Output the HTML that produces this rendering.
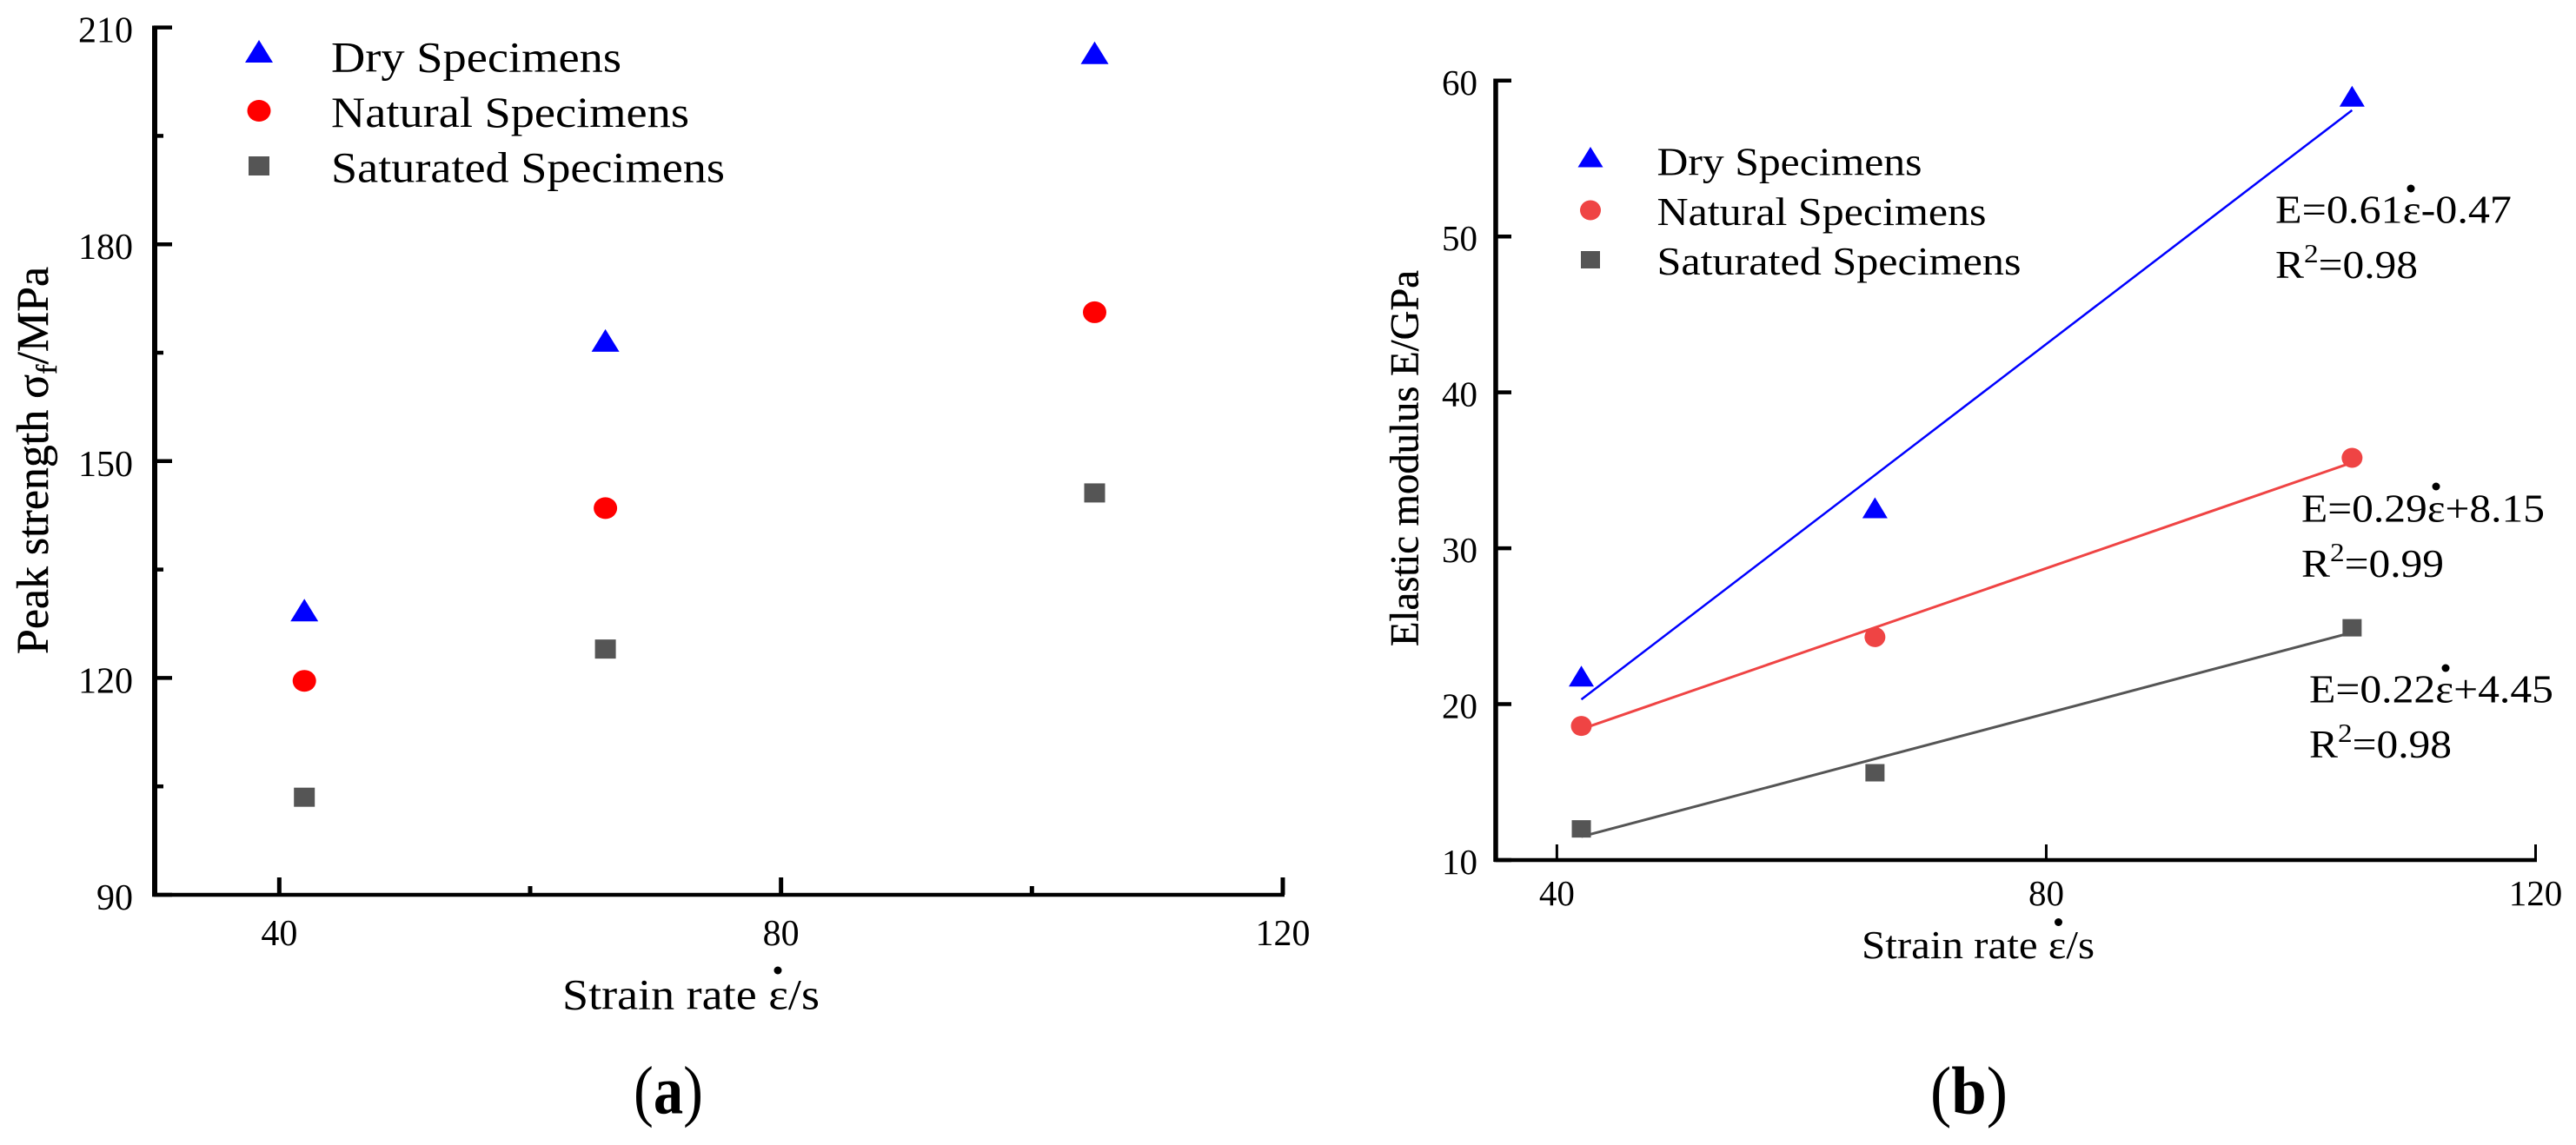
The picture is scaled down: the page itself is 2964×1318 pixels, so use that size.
<!DOCTYPE html>
<html lang="en">
<head>
<meta charset="utf-8">
<title>Peak strength and elastic modulus vs strain rate</title>
<style>
html,body{margin:0;padding:0;background:#fff;}
svg{display:block;}
text{font-family:"Liberation Serif","Times New Roman",serif;fill:#000;}
</style>
</head>
<body>
<svg id="figure" xmlns="http://www.w3.org/2000/svg" width="2964" height="1318" viewBox="0 0 2964 1318">
  <rect x="0" y="0" width="2964" height="1318" fill="#fff"/>

  <g id="panel-a">
    <text transform="translate(55,753) rotate(-90)" font-size="52" stroke="#000" stroke-width="0.4" textLength="446" lengthAdjust="spacingAndGlyphs">Peak strength σ<tspan font-size="34" dy="10">f</tspan><tspan dy="-10">/MPa</tspan></text>
    <text x="647" y="1161.5" font-size="50" textLength="296" lengthAdjust="spacingAndGlyphs">Strain rate ε/s</text>
    <circle cx="895" cy="1117" r="4.5" fill="#000"/>
    <text x="381" y="82.5" font-size="50" textLength="334" lengthAdjust="spacingAndGlyphs">Dry Specimens</text>
    <text x="381" y="146" font-size="50" textLength="412" lengthAdjust="spacingAndGlyphs">Natural Specimens</text>
    <text x="381" y="209.5" font-size="50" textLength="453" lengthAdjust="spacingAndGlyphs">Saturated Specimens</text>
    <polygon points="298,46 314,72 282,72" fill="#0000ff"/>
    <ellipse cx="298" cy="127.5" rx="13.5" ry="12.5" fill="#ff0000"/>
    <rect x="286" y="180" width="24" height="22" fill="#555555"/>
    <text x="729" y="1281.5" font-size="78" textLength="80" lengthAdjust="spacingAndGlyphs">(<tspan font-weight="bold">a</tspan>)</text>
  </g>

  <g id="panel-b">
    <text transform="translate(1631.5,744) rotate(-90)" font-size="47" stroke="#000" stroke-width="0.4" textLength="433" lengthAdjust="spacingAndGlyphs">Elastic modulus E/GPa</text>
    <text x="2142" y="1103" font-size="46" textLength="268" lengthAdjust="spacingAndGlyphs">Strain rate ε/s</text>
    <circle cx="2368.5" cy="1061.5" r="4.5" fill="#000"/>
    <text x="1906.5" y="201.5" font-size="46" textLength="305" lengthAdjust="spacingAndGlyphs">Dry Specimens</text>
    <text x="1906.5" y="259" font-size="46" textLength="379" lengthAdjust="spacingAndGlyphs">Natural Specimens</text>
    <text x="1906.5" y="316" font-size="46" textLength="419" lengthAdjust="spacingAndGlyphs">Saturated Specimens</text>
    <polygon points="1830,169 1844.5,192.5 1815.5,192.5" fill="#0000ff"/>
    <ellipse cx="1830" cy="242" rx="12" ry="11.5" fill="#ef4444"/>
    <rect x="1819" y="289" width="22" height="20" fill="#555555"/>

    <text x="2618" y="256.5" font-size="46" textLength="272" lengthAdjust="spacingAndGlyphs">E=0.61ε-0.47</text>
    <circle cx="2774" cy="217" r="4.5" fill="#000"/>
    <text x="2618" y="320" font-size="46" textLength="164" lengthAdjust="spacingAndGlyphs">R<tspan font-size="31" dy="-18">2</tspan><tspan dy="18">=0.98</tspan></text>

    <text x="2648" y="600.5" font-size="46" textLength="280" lengthAdjust="spacingAndGlyphs">E=0.29ε+8.15</text>
    <circle cx="2803" cy="560" r="4.5" fill="#000"/>
    <text x="2648" y="664" font-size="46" textLength="164" lengthAdjust="spacingAndGlyphs">R<tspan font-size="31" dy="-18">2</tspan><tspan dy="18">=0.99</tspan></text>

    <text x="2657" y="808.5" font-size="46" textLength="281" lengthAdjust="spacingAndGlyphs">E=0.22ε+4.45</text>
    <circle cx="2814" cy="769" r="4.5" fill="#000"/>
    <text x="2657" y="872" font-size="46" textLength="164" lengthAdjust="spacingAndGlyphs">R<tspan font-size="31" dy="-18">2</tspan><tspan dy="18">=0.98</tspan></text>

    <text x="2221" y="1282" font-size="78" textLength="89" lengthAdjust="spacingAndGlyphs">(<tspan font-weight="bold">b</tspan>)</text>
  </g>
</svg>

<script>
// Shared data
const strainRates = [42, 66, 105];

// Panel (a): peak strength, MPa
const peakDry = [129.4, 166.7, 206.5];
const peakNatural = [119.6, 143.5, 170.6];
const peakSaturated = [103.5, 124, 145.6];
const peakYTicks = [90, 120, 150, 180, 210];
const peakYMinorTicks = [105, 135, 165, 195];
const peakXTicks = [40, 80, 120];
const peakXMinorTicks = [60, 100];

// Panel (b): elastic modulus, GPa
const modulusDry = [21.8, 32.6, 59];
const modulusNatural = [18.6, 24.3, 35.8];
const modulusSaturated = [12, 15.6, 24.9];
const modulusYTicks = [10, 20, 30, 40, 50, 60];
const modulusXTicks = [40, 80, 120];

// Fit line end values at the first and last strain rate
const fitDry = [20.3, 58.1];
const fitNatural = [18.4, 35.5];
const fitSaturated = [11.5, 24.6];

const SVG_NS = 'http://www.w3.org/2000/svg';
const panelA = document.getElementById('panel-a');
const panelB = document.getElementById('panel-b');

function scale(d0, d1, r0, r1) {
  return function (v) { return r0 + (v - d0) * (r1 - r0) / (d1 - d0); };
}
function make(parent, tag, attrs) {
  const el = document.createElementNS(SVG_NS, tag);
  for (const k in attrs) el.setAttribute(k, attrs[k]);
  parent.appendChild(el);
  return el;
}
function triangleMark(parent, cx, cy, w, h, fill) {
  return make(parent, 'polygon', {
    points: cx + ',' + (cy - h / 2) + ' ' + (cx + w / 2) + ',' + (cy + h / 2) + ' ' + (cx - w / 2) + ',' + (cy + h / 2),
    fill: fill
  });
}
function circleMark(parent, cx, cy, rx, ry, fill) {
  return make(parent, 'ellipse', { cx: cx, cy: cy, rx: rx, ry: ry, fill: fill });
}
function squareMark(parent, cx, cy, w, h, fill) {
  return make(parent, 'rect', { x: cx - w / 2, y: cy - h / 2, width: w, height: h, fill: fill });
}
function lineMark(parent, x1, y1, x2, y2, color, width) {
  return make(parent, 'line', { x1: x1, y1: y1, x2: x2, y2: y2, stroke: color, 'stroke-width': width });
}
function labelMark(parent, x, y, text, anchor, size) {
  const el = make(parent, 'text', { x: x, y: y, 'text-anchor': anchor, 'font-size': size });
  el.textContent = text;
  return el;
}

/* ---------- Panel (a) ---------- */
const xA = scale(30, 120, 177, 1476);
const yA = scale(90, 210, 1030, 31.6);

const axisYA = lineMark(panelA, 178, 29.5, 178, 1032, '#000', 6);


const axisXA = lineMark(panelA, 175, 1030, 1478, 1030, '#000', 4.5);



peakYTicks.forEach(function (t) {
  const tick = lineMark(panelA, 177, yA(t), 198, yA(t), '#000', 4.5);
  
  
  const label = labelMark(panelA, 153, yA(t) + 17, String(t), 'end', 42);
  
  
});
peakYMinorTicks.forEach(function (t) {
  const tick = lineMark(panelA, 177, yA(t), 188, yA(t), '#000', 4.5);
  
  
});
peakXTicks.forEach(function (t) {
  const tick = lineMark(panelA, xA(t), 1030, xA(t), 1010, '#000', 5);
  
  
  const label = labelMark(panelA, xA(t), 1088, String(t), 'middle', 42);
  
  
});
peakXMinorTicks.forEach(function (t) {
  const tick = lineMark(panelA, xA(t), 1030, xA(t), 1020, '#000', 5);
  
  
});

strainRates.forEach(function (r, i) {
  const tri = triangleMark(panelA, xA(r), yA(peakDry[i]), 32, 26, '#0000ff');
  
  
  const dot = circleMark(panelA, xA(r), yA(peakNatural[i]), 13.5, 12.5, '#ff0000');
  
  
  const sq = squareMark(panelA, xA(r), yA(peakSaturated[i]), 24, 22, '#555555');
  
  
});

/* ---------- Panel (b) ---------- */
const xB = scale(35, 120, 1721, 2917.5);
const yB = scale(10, 60, 990, 92.8);

const axisYB = lineMark(panelB, 1721, 90.5, 1721, 992, '#000', 5.5);


const axisXB = lineMark(panelB, 1719, 990, 2919, 990, '#000', 4.5);



modulusYTicks.forEach(function (t) {
  const tick = lineMark(panelB, 1721, yB(t), 1739, yB(t), '#000', 4.5);
  
  
  const label = labelMark(panelB, 1700, yB(t) + 16, String(t), 'end', 41);
  
  
});
modulusXTicks.forEach(function (t) {
  const tick = lineMark(panelB, xB(t), 990, xB(t), 972, '#000', 3);
  
  
  const label = labelMark(panelB, xB(t), 1042, String(t), 'middle', 41);
  
  
});

const firstRate = strainRates[0];
const lastRate = strainRates[strainRates.length - 1];

const fitLineDry = lineMark(panelB, xB(firstRate), yB(fitDry[0]), xB(lastRate), yB(fitDry[1]), '#0000ff', 2.5);


const fitLineNatural = lineMark(panelB, xB(firstRate), yB(fitNatural[0]), xB(lastRate), yB(fitNatural[1]), '#ef4444', 3);


const fitLineSaturated = lineMark(panelB, xB(firstRate), yB(fitSaturated[0]), xB(lastRate), yB(fitSaturated[1]), '#555555', 3);



strainRates.forEach(function (r, i) {
  const tri = triangleMark(panelB, xB(r), yB(modulusDry[i]), 29, 24, '#0000ff');
  
  
  const dot = circleMark(panelB, xB(r), yB(modulusNatural[i]), 12, 11.5, '#ef4444');
  
  
  const sq = squareMark(panelB, xB(r), yB(modulusSaturated[i]), 22, 20, '#555555');
  
  
});
</script>
</body>
</html>
